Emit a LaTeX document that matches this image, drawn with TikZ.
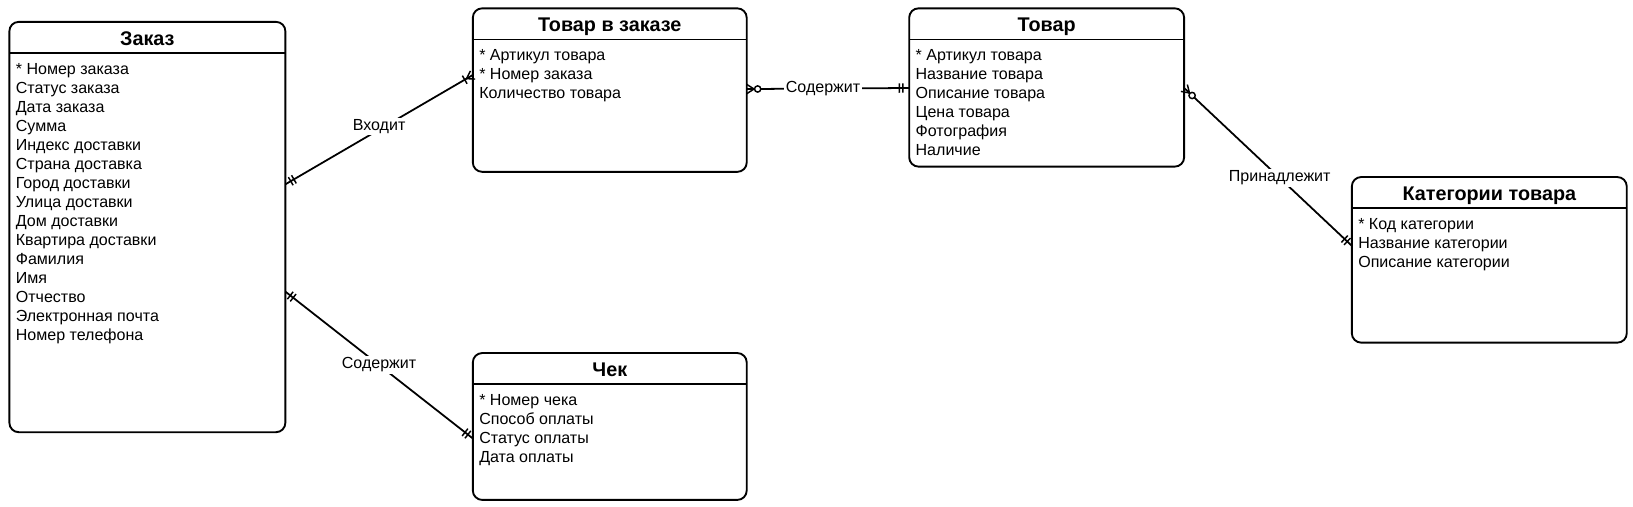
\documentclass[tikz,border=0pt]{standalone}
\usepackage{fontspec}
\setmainfont{Liberation Sans}
\usetikzlibrary{decorations.markings,calc}

\tikzset{
  ebox/.style={draw, line width=1.8pt, rounded corners=9pt, inner sep=0pt, outer sep=0pt, anchor=north west},
  eline/.style={line width=1.6pt},
  etitle/.style={font=\bfseries\fontsize{19}{22}\selectfont, anchor=base, inner sep=0pt},
  erow/.style={font=\fontsize{15.4}{18}\selectfont, anchor=base west, inner sep=0pt},
  rel/.style={line width=1.7pt},
  rlabel/.style={font=\fontsize{15.4}{18}\selectfont, fill=white, inner sep=1.5pt},
  erone start/.style={postaction={decorate,decoration={markings,mark=at position 0 with {\draw[line width=1.4pt] (6pt,-4.5pt)--(6pt,4.5pt) (9.5pt,-4.5pt)--(9.5pt,4.5pt);}}}},
  erone end/.style={postaction={decorate,decoration={markings,mark=at position 1 with {\draw[line width=1.4pt] (-6pt,-4.5pt)--(-6pt,4.5pt) (-9.5pt,-4.5pt)--(-9.5pt,4.5pt);}}}},
  eronemany end/.style={postaction={decorate,decoration={markings,mark=at position 1 with {\draw[line width=1.4pt] (0pt,4.5pt)--(-7pt,0pt)--(0pt,-4.5pt) (-9pt,-4.5pt)--(-9pt,4.5pt);}}}},
  erzeromany start/.style={postaction={decorate,decoration={markings,mark=at position 0 with {\draw[line width=1.4pt] (0pt,4.5pt)--(7pt,0pt)--(0pt,-4.5pt); \draw[line width=1.4pt,fill=white] (10.5pt,0pt) circle (3pt);}}}},
}

\newcommand\entity[7]{%
  \node[ebox, minimum width=#4pt, minimum height=#5pt] (#1) at (#2,#3) {};
  \draw[eline] ($(#1.north west)+(0,30)$) -- ($(#1.north east)+(0,30)$);
  \node[etitle] (#1-t) at ($(#1.north)+(0,22.5)$) {#6};
  \foreach \r [count=\i] in {#7} {
    \node[erow] (#1-\i) at ($(#1.north west)+(6,{50.5+(\i-1)*18.25})$) {\r};
  }%
}

\begin{document}
\begin{tikzpicture}[x=1pt,y=-1pt]
\useasboundingbox (0,0) rectangle (1568,486);

\entity{zakaz}{9}{21}{265}{394}{Заказ}{* Номер заказа, Статус заказа, Дата заказа, Сумма, Индекс доставки, Страна доставка, Город доставки, Улица доставки, Дом доставки, Квартира доставки, Фамилия, Имя, Отчество, Электронная почта, Номер телефона}
\entity{tvz}{454}{8}{263}{157}{Товар в заказе}{* Артикул товара, * Номер заказа, Количество товара}
\entity{tovar}{873}{8}{264}{152}{Товар}{* Артикул товара, Название товара, Описание товара, Цена товара, Фотография, Наличие}
\entity{kat}{1298}{170}{264}{159}{Категории товара}{* Код категории, Название категории, Описание категории}
\entity{chek}{454}{339}{263}{141}{Чек}{* Номер чека, Способ оплаты, Статус оплаты, Дата оплаты}

\coordinate (c1a) at ($(zakaz.north east)+(0,156)$);
\coordinate (c1b) at ($(tvz.north west)+(0,64)$);
\coordinate (c2a) at ($(tvz.north east)+(0,77.5)$);
\coordinate (c2b) at ($(tovar.north west)+(0,76.5)$);
\coordinate (c3a) at ($(tovar.north east)+(0,76.5)$);
\coordinate (c3b) at ($(kat.north west)+(0,66)$);
\coordinate (c4a) at ($(zakaz.north east)+(0,259)$);
\coordinate (c4b) at ($(chek.north west)+(0,82)$);

\draw[rel, erone start, eronemany end] (c1a) -- node[rlabel, pos=0.5, yshift=3pt] (l1) {Входит} (c1b);
\draw[rel, erzeromany start, erone end] (c2a) -- node[rlabel, pos=0.47] (l2) {Содержит} (c2b);
\draw[rel, erzeromany start, erone end] (c3a) -- node[rlabel, pos=0.57] (l3) {Принадлежит} (c3b);
\draw[rel, erone start, erone end] (c4a) -- node[rlabel, pos=0.5] (l4) {Содержит} (c4b);
\end{tikzpicture}
\end{document}
